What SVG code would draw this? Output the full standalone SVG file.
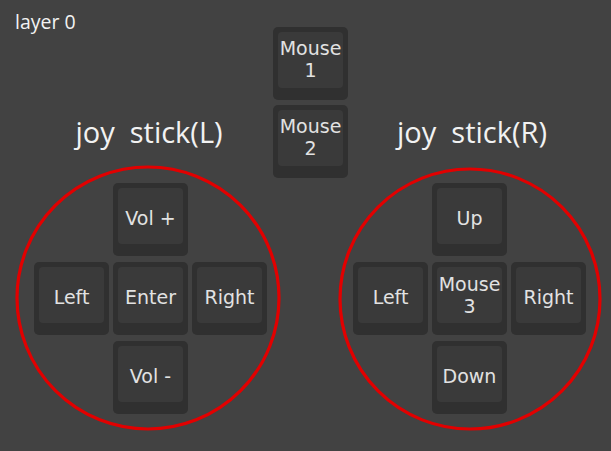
<svg xmlns="http://www.w3.org/2000/svg" width="611" height="451" viewBox="0 0 611 451">
<defs>
<style>
.bg{fill:#424242}
.ko{fill:#303030}
.ki{fill:#3a3a3a}
.kl{font-family:"DejaVu Sans",sans-serif;font-size:19px;fill:#e2e2e2;text-anchor:middle}
.ttl{font-family:"Open Sans",sans-serif;font-size:29px;fill:#f2f2f2;text-anchor:middle;white-space:pre}
.lay{font-family:"Open Sans",sans-serif;font-size:19.5px;fill:#f2f2f2}
.ring{fill:none;stroke:#e20000;stroke-width:3.2}
</style>
<g id="key">
<rect class="ko" x="0" y="0" width="75" height="73" rx="5"/>
<rect class="ki" x="5" y="5" width="65" height="56" rx="4"/>
</g>
</defs>
<rect class="bg" x="0" y="0" width="611" height="451"/>
<text class="lay" x="15" y="29">layer 0</text>
<text class="ttl" x="149" y="143" xml:space="preserve">joy  stick(L)</text>
<text class="ttl" x="472" y="143" xml:space="preserve">joy  stick(R)</text>
<g id="mouse1"><use href="#key" x="273" y="27"/><text class="kl" x="310.5" y="55">Mouse</text><text class="kl" x="310.5" y="77">1</text></g>
<g id="mouse2"><use href="#key" x="273" y="105"/><text class="kl" x="310.5" y="133">Mouse</text><text class="kl" x="310.5" y="155">2</text></g>
<g id="volup"><use href="#key" x="113" y="183"/><text class="kl" x="150.5" y="225">Vol +</text></g>
<g id="leftL"><use href="#key" x="34" y="262"/><text class="kl" x="71.5" y="304">Left</text></g>
<g id="enter"><use href="#key" x="113" y="262"/><text class="kl" x="150.5" y="304">Enter</text></g>
<g id="rightL"><use href="#key" x="192" y="262"/><text class="kl" x="229.5" y="304">Right</text></g>
<g id="voldown"><use href="#key" x="113" y="341"/><text class="kl" x="150.5" y="383">Vol -</text></g>
<g id="up"><use href="#key" x="432" y="183"/><text class="kl" x="469.5" y="225">Up</text></g>
<g id="leftR"><use href="#key" x="353" y="262"/><text class="kl" x="390.5" y="304">Left</text></g>
<g id="mouse3"><use href="#key" x="432" y="262"/><text class="kl" x="469.5" y="291">Mouse</text><text class="kl" x="469.5" y="313">3</text></g>
<g id="rightR"><use href="#key" x="511" y="262"/><text class="kl" x="548.5" y="304">Right</text></g>
<g id="down"><use href="#key" x="432" y="341"/><text class="kl" x="469.5" y="383">Down</text></g>
<g id="connectors">
<circle class="ring" cx="148" cy="298" r="131"/>
<circle class="ring" cx="470" cy="299" r="130"/>
</g>
</svg>
